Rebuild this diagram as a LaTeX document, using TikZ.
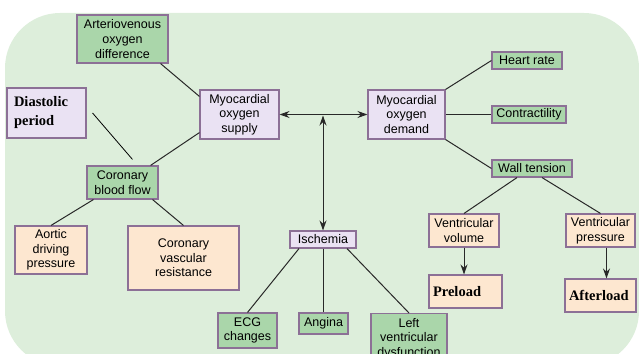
\documentclass[tikz,border=0pt]{standalone}
\usepackage{fontspec}
\setmainfont{Liberation Sans}
\newfontfamily\headfont{Liberation Serif}
\usetikzlibrary{arrows.meta,calc}
\definecolor{bggreen}{RGB}{221,238,219}
\definecolor{boxgreen}{RGB}{170,214,170}
\definecolor{boxlav}{RGB}{234,226,243}
\definecolor{boxpeach}{RGB}{253,231,208}
\definecolor{boxline}{RGB}{140,112,150}
\definecolor{linegray}{RGB}{40,40,40}
\begin{document}
\begin{tikzpicture}[x=1pt,y=-1pt,
    cbox/.style={draw=boxline, line width=1.1pt, align=center, inner sep=1pt,
        font=\fontsize{12.5}{14.6}\selectfont},
    grn/.style={cbox, fill=boxgreen},
    lav/.style={cbox, fill=boxlav},
    pch/.style={cbox, fill=boxpeach},
    heavy/.style={align=left, font=\headfont\bfseries\fontsize{14.5}{19}\selectfont},
    link/.style={draw=linegray, line width=1pt},
    arr/.style={link, -{Stealth[length=10pt,width=7pt]}},
    dblarr/.style={link, {Stealth[length=10pt,width=7pt]}-{Stealth[length=10pt,width=7pt]}}]
\useasboundingbox (0,0) rectangle (639,353);
\clip (0,0) rectangle (639,353);
\fill[bggreen, rounded corners=55pt] (5,13) rectangle (639,366);

% supply side
\node[grn, minimum width=91, minimum height=48] (avod) at (122.5,39) {Arteriovenous\\oxygen\\difference};
\node[lav, heavy, text width=65pt, inner sep=7pt, minimum height=50] (diast) at (46.5,113) {Diastolic\\period};
\node[lav, minimum width=79, minimum height=49] (supply) at (239.5,114.5) {Myocardial\\oxygen\\supply};
\node[grn, minimum width=71, minimum height=33] (cbf) at (122.5,182.5) {Coronary\\blood flow};
\node[pch, minimum width=72, minimum height=48] (aortic) at (51,250) {Aortic\\driving\\pressure};
\node[pch, minimum width=111, minimum height=64] (cvr) at (183.5,258) {Coronary\\vascular\\resistance};

% demand side
\node[lav, minimum width=77, minimum height=49] (demand) at (406.5,114.5) {Myocardial\\oxygen\\demand};
\node[grn, minimum width=70, minimum height=17] (heart) at (527,60.5) {Heart rate};
\node[grn, minimum width=74, minimum height=17] (contr) at (529,114.5) {Contractility};
\node[grn, minimum width=80, minimum height=17] (wallt) at (532,168.5) {Wall tension};
\node[pch, minimum width=70, minimum height=33] (vvol) at (464,230.5) {Ventricular\\volume};
\node[pch, minimum width=69, minimum height=33] (vpres) at (600.5,230.5) {Ventricular\\pressure};
\node[pch, heavy, text width=65pt, inner sep=4pt, minimum height=33] (preload) at (465.5,291.5) {Preload};
\node[pch, heavy, text width=63pt, inner sep=4pt, minimum height=33] (afterl) at (600.5,295.5) {Afterload};

% ischemia
\node[lav, minimum width=66, minimum height=17] (isch) at (323,239.5) {Ischemia};
\node[grn, minimum width=59, minimum height=35] (ecg) at (247.5,330.5) {ECG\\changes};
\node[grn, minimum width=49, minimum height=21] (angina) at (323.5,323.5) {Angina};
\node[grn, minimum width=76, minimum height=50, anchor=north] (lvd) at (409,313) {Left\\ventricular\\dysfunction};

% links
\draw[link] ([xshift=-8pt]avod.south east) -- ([yshift=-7pt]supply.north west);
\draw[link] ([yshift=7pt]supply.south west) -- ([xshift=-8pt]cbf.north east);
\draw[link, draw=black, line width=0.8pt] ([xshift=6pt]diast.east) -- ([xshift=10pt,yshift=6pt]cbf.north);
\draw[link] ([xshift=7pt]cbf.south west) -- (aortic.north);
\draw[link] ([xshift=-6pt]cbf.south east) -- (cvr.north);

\draw[dblarr] (supply) -- (demand);
\coordinate (mid) at (isch |- supply);
\draw[dblarr] ([yshift=-1pt]mid) -- (isch.north);

\draw[link] (demand.north east) -- (heart.west);
\draw[link] (demand) -- (contr);
\draw[link] (demand.south east) -- (wallt.west);
\draw[link] ([xshift=-15pt]wallt.south) -- (vvol.north);
\draw[link] ([xshift=10pt]wallt.south) -- (vpres.north);
\draw[arr] (vvol.south) -- (vvol.south |- preload.north);
\draw[arr] ([xshift=6pt]vpres.south) -- ([xshift=6pt]vpres.south |- afterl.north);

\draw[link] ([xshift=-24pt]isch.south) -- (ecg.north);
\draw[link] (isch.south) -- (isch.south |- angina.north);
\draw[link] ([xshift=24pt]isch.south) -- (lvd.north);
\end{tikzpicture}
\end{document}
